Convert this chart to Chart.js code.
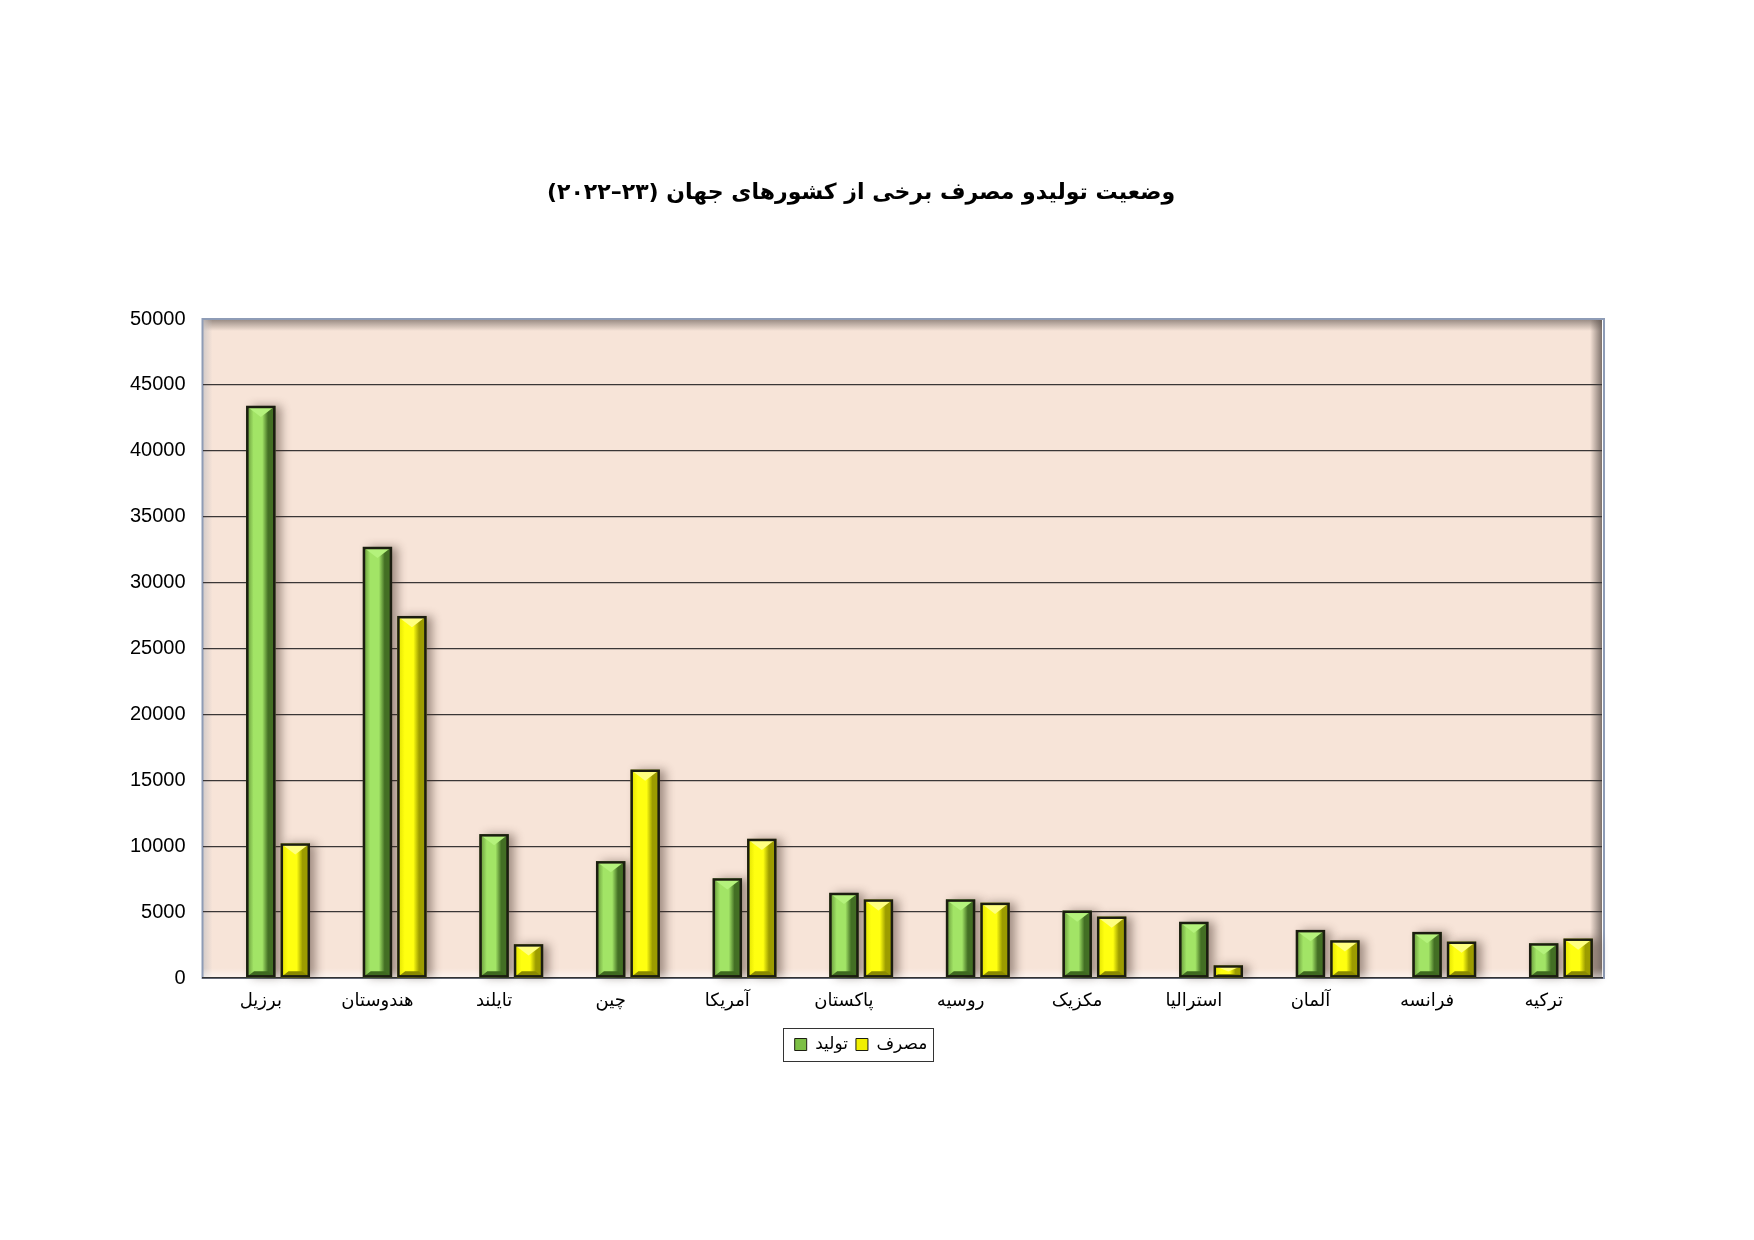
<!DOCTYPE html>
<html lang="fa">

<head>
  <meta charset="UTF-8">
  <title>وضعیت تولید و مصرف</title>
  <script src="https://cdn.jsdelivr.net/npm/chart.js"></script>
  <style>
    body {
      margin: 0;
      background: #fff;
    }

    #wrap {
      width: 1754px;
      height: 1240px;
    }
  </style>
</head>

<body>
  <div id="wrap"><canvas id="myChart" width="1754" height="1240" dir="rtl"></canvas></div>

  <script>
    // chart data
    const categories = ['برزیل', 'هندوستان', 'تایلند', 'چین', 'آمریکا', 'پاکستان', 'روسیه', 'مکزیک', 'استرالیا', 'آلمان', 'فرانسه', 'ترکیه'];
    const production = [43400, 32700, 10900, 8850, 7550, 6450, 5950, 5100, 4250, 3630, 3480, 2620];
    const consumption = [10200, 27450, 2550, 15800, 10550, 5950, 5700, 4650, 950, 2850, 2750, 2980];
    const yTicks = [0, 5000, 10000, 15000, 20000, 25000, 30000, 35000, 40000, 45000, 50000];
    const seriesNames = ['تولید', 'مصرف'];
    const titleText = 'وضعیت تولیدو مصرف برخی از کشورهای جهان (۲۳–۲۰۲۲)';

    // empty slot so the pair sits to the right of the category centre, like the original
    const spacer = categories.map(() => null);

    const shades = {
      1: { edge: '#5f8f34', light: '#a2e466', dark: '#436f24', top: '#b4f27c', bottom: '#3f6a20' },
      2: { edge: '#dede00', light: '#ffff10', dark: '#9c9c00', top: '#ffff80', bottom: '#8a8a00' }
    };

    // plot wall and frame
    const framePlugin = {
      id: 'frame',
      beforeDraw(chart) {
        const { ctx, chartArea: a } = chart;
        ctx.direction = 'rtl';
        ctx.save();
        ctx.fillStyle = '#fff';
        ctx.fillRect(0, 0, chart.width, chart.height);
        ctx.fillStyle = '#f7e4d8';
        ctx.fillRect(a.left, a.top, a.width, a.height);

        let g = ctx.createLinearGradient(0, a.top, 0, a.top + 12);
        g.addColorStop(0, 'rgba(95,85,80,0.65)');
        g.addColorStop(1, 'rgba(95,85,80,0)');
        ctx.fillStyle = g;
        ctx.fillRect(a.left, a.top, a.width, 12);

        g = ctx.createLinearGradient(a.left, 0, a.left + 10, 0);
        g.addColorStop(0, 'rgba(200,195,195,0.8)');
        g.addColorStop(1, 'rgba(200,195,195,0)');
        ctx.fillStyle = g;
        ctx.fillRect(a.left, a.top, 10, a.height);

        g = ctx.createLinearGradient(a.right - 12, 0, a.right, 0);
        g.addColorStop(0, 'rgba(95,85,80,0)');
        g.addColorStop(1, 'rgba(95,85,80,0.8)');
        ctx.fillStyle = g;
        ctx.fillRect(a.right - 12, a.top, 12, a.height);

        g = ctx.createLinearGradient(0, a.bottom - 10, 0, a.bottom);
        g.addColorStop(0, 'rgba(255,255,255,0)');
        g.addColorStop(1, 'rgba(255,255,255,0.6)');
        ctx.fillStyle = g;
        ctx.fillRect(a.left, a.bottom - 10, a.width, 10);

        ctx.strokeStyle = '#8e9cb6';
        ctx.lineWidth = 2;
        ctx.strokeRect(a.left, a.top, a.width + 2, a.height);
        ctx.restore();
      },
      afterDraw(chart) {
        // box round the legend
        const boxes = chart.legend.legendHitBoxes;
        if (!boxes.length) return;
        const ctx = chart.ctx;
        const l = Math.min(...boxes.map(b => b.left)) - 12;
        const r = Math.max(...boxes.map(b => b.left + b.width)) + 5;
        const t = Math.min(...boxes.map(b => b.top)) - 8;
        const bt = Math.max(...boxes.map(b => b.top + b.height)) + 8;
        ctx.save();
        ctx.strokeStyle = '#333';
        ctx.lineWidth = 1;
        ctx.strokeRect(Math.round(l) + 0.5, Math.round(t) + 0.5, Math.round(r - l), Math.round(bt - t));
        ctx.restore();
      }
    };

    // shaded bevel columns
    const bevelPlugin = {
      id: 'bevel',
      beforeDatasetsDraw(chart) {
        const ctx = chart.ctx;
        ctx.save();
        ctx.shadowColor = 'rgba(60,40,30,0.45)';
        ctx.shadowBlur = 10;
        ctx.shadowOffsetX = 6;
        ctx.fillStyle = '#f7e4d8';
        [1, 2].forEach(di => chart.getDatasetMeta(di).data.forEach(bar => {
          const { x, y, base, width } = bar.getProps(['x', 'y', 'base', 'width'], true);
          ctx.fillRect(x - width / 2, Math.min(y, base), width, Math.abs(base - y));
        }));
        ctx.restore();
      },
      afterDatasetsDraw(chart) {
        const ctx = chart.ctx;
        ctx.save();
        [1, 2].forEach(di => {
          const s = shades[di];
          chart.getDatasetMeta(di).data.forEach(bar => {
            const { x, y, base, width } = bar.getProps(['x', 'y', 'base', 'width'], true);
            const l = x - width / 2, r = x + width / 2;
            const t = Math.min(y, base), b = Math.max(y, base), h = b - t;
            const g = ctx.createLinearGradient(l, 0, r, 0);
            g.addColorStop(0, s.edge);
            g.addColorStop(0.25, s.light);
            g.addColorStop(0.55, s.light);
            g.addColorStop(0.75, s.dark);
            g.addColorStop(1, s.dark);
            ctx.fillStyle = g;
            ctx.fillRect(l, t, width, h);

            const bv = Math.min(width * 0.38, h / 2);
            ctx.fillStyle = s.top;
            ctx.beginPath();
            ctx.moveTo(l, t);
            ctx.lineTo(r, t);
            ctx.lineTo(x, t + bv);
            ctx.closePath();
            ctx.fill();

            ctx.fillStyle = s.bottom;
            ctx.beginPath();
            ctx.moveTo(l, b);
            ctx.lineTo(r, b);
            ctx.lineTo(r - bv * 0.7, b - bv * 0.55);
            ctx.lineTo(l + bv * 0.7, b - bv * 0.55);
            ctx.closePath();
            ctx.fill();

            ctx.strokeStyle = '#1b1d10';
            ctx.lineWidth = 2.5;
            ctx.strokeRect(l + 1, t + 1, width - 2, h - 2);
          });
        });
        ctx.restore();
      }
    };

    const ctx = document.getElementById('myChart').getContext('2d');
    const myChart = new Chart(ctx, {
      type: 'bar',
      data: {
        labels: categories,
        datasets: [{
          label: '',
          data: spacer
        }, {
          label: seriesNames[0],
          data: production,
          backgroundColor: '#7cbf45',
          borderColor: '#1b1d10',
          borderWidth: 1
        }, {
          label: seriesNames[1],
          data: consumption,
          backgroundColor: '#f0f000',
          borderColor: '#1b1d10',
          borderWidth: 1
        }]
      },
      options: {
        responsive: false,
        animation: false,
        categoryPercentage: 0.887,
        barPercentage: 0.84,
        layout: {
          padding: { top: 180, left: 120, right: 152, bottom: 177 }
        },
        plugins: {
          title: {
            display: true,
            text: titleText,
            color: '#000',
            font: { family: '"DejaVu Sans", sans-serif', size: 22, weight: 'bold' },
            padding: { top: 0, bottom: 112.6 }
          },
          legend: {
            position: 'bottom',
            labels: {
              filter: item => item.text !== '',
              boxWidth: 12,
              boxHeight: 12,
              padding: 8,
              color: '#000',
              font: { family: 'Arial, "DejaVu Sans", sans-serif', size: 17 }
            }
          },
          tooltip: { enabled: false }
        },
        scales: {
          x: {
            grid: { display: false, drawTicks: false },
            border: { display: true, color: '#333', width: 1.5 },
            ticks: {
              color: '#000',
              padding: 12,
              maxRotation: 0,
              font: { family: 'Arial, "DejaVu Sans", sans-serif', size: 18 }
            },
            afterFit: s => { s.height = 50; }
          },
          y: {
            min: 0,
            max: 50000,
            afterBuildTicks: s => { s.ticks = yTicks.map(v => ({ value: v })); },
            grid: {
              color: c => c.tick.value === 50000 || c.tick.value === 0 ? 'rgba(0,0,0,0)' : '#3a3636',
              lineWidth: 1.3,
              drawTicks: false
            },
            border: { display: false },
            ticks: {
              color: '#000',
              padding: 17,
              callback: v => String(v),
              font: { family: 'Arial, "Liberation Sans", sans-serif', size: 20 }
            },
            afterFit: s => { s.width = 82.5; }
          }
        }
      },
      plugins: [framePlugin, bevelPlugin]
    });
  </script>

</body>

</html>
